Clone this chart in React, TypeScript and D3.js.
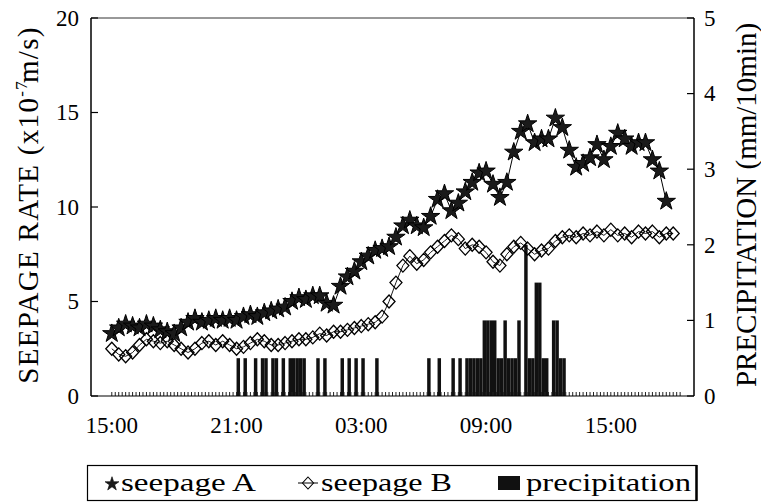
import React from "react";
import * as d3 from "d3";

// ---------- data ----------
const seriesStart = new Date(2000, 0, 1, 15, 0);
const seepageStepMin = 20; // minutes between seepage readings
const precipStepMin = 10; // precipitation interval (mm / 10 min)

const seepageA = [
  3.3, 3.6, 3.8, 3.7, 3.6, 3.8, 3.7, 3.5, 3.4, 3.3,
  3.6, 3.9, 4.1, 3.9, 4.0, 4.1, 4.0, 4.1, 4.0, 4.2,
  4.3, 4.2, 4.4, 4.5, 4.6, 4.7, 5.0, 5.2, 5.1, 5.3,
  5.3, 4.9, 4.8, 5.8, 6.3, 6.6, 7.1, 7.4, 7.7, 7.8,
  7.9, 8.4, 9.0, 9.3, 9.0, 8.9, 9.5, 10.4, 10.7, 9.8,
  10.2, 10.8, 11.3, 11.8, 11.9, 11.2, 10.5, 11.3, 12.9, 14.0,
  14.4, 13.4, 13.6, 13.6, 14.7, 14.2, 13.0, 12.1, 12.3, 12.6,
  13.3, 12.5, 13.2, 13.9, 13.6, 13.2, 13.4, 13.4, 12.5, 11.9,
  10.3,
];

const seepageB = [
  2.5, 2.2, 2.1, 2.3, 2.7, 3.0, 2.9, 2.8, 2.9, 2.7,
  2.5, 2.3, 2.5, 2.8, 2.9, 2.7, 2.9, 2.7, 2.5, 2.6,
  2.8, 3.0, 2.9, 2.7, 2.7, 2.8, 2.9, 3.0, 3.0, 3.1,
  3.3, 3.2, 3.4, 3.4, 3.5, 3.6, 3.7, 3.8, 3.9, 4.2,
  5.0, 6.0, 6.9, 7.4, 7.0, 7.2, 7.6, 7.9, 8.2, 8.5,
  8.3, 7.8, 8.0, 7.9, 7.6, 7.1, 6.9, 7.5, 7.9, 8.1,
  7.8, 7.5, 7.7, 7.8, 8.2, 8.4, 8.5, 8.4, 8.6, 8.5,
  8.7, 8.5, 8.8, 8.5, 8.6, 8.4, 8.7, 8.6, 8.7, 8.4,
  8.6, 8.6,
];

const precipitation = [
  0, 0, 0, 0, 0, 0, 0, 0, 0, 0,
  0, 0, 0, 0, 0, 0, 0, 0, 0, 0,
  0, 0, 0, 0, 0, 0, 0, 0, 0, 0,
  0, 0, 0, 0, 0, 0, 0.5, 0, 0.5, 0,
  0, 0.5, 0, 0.5, 0.5, 0, 0.5, 0.5, 0, 0.5,
  0, 0.5, 0.5, 0.5, 0.5, 0.5, 0, 0, 0, 0.5,
  0, 0.5, 0, 0, 0, 0, 0.5, 0, 0.5, 0,
  0.5, 0, 0.5, 0, 0, 0, 0.5, 0, 0, 0,
  0, 0, 0, 0, 0, 0, 0, 0, 0, 0,
  0, 0.5, 0, 0, 0.5, 0, 0, 0, 0.5, 0,
  0.5, 0, 0.5, 0.5, 0.5, 0.5, 0.5, 1, 1, 1,
  1, 0.5, 0.5, 1, 0.5, 0.5, 0.5, 1, 0, 2,
  0.5, 0.5, 1.5, 1.5, 0.5, 0.5, 0, 1, 1, 0.5,
  0.5,
];

const minorTickCount = 165; // 10-min ticks along the time axis
const xDomain = [new Date(2000, 0, 1, 14, 0), new Date(2000, 0, 2, 19, 0)];
const xTickTimes = [
  new Date(2000, 0, 1, 15, 0),
  new Date(2000, 0, 1, 21, 0),
  new Date(2000, 0, 2, 3, 0),
  new Date(2000, 0, 2, 9, 0),
  new Date(2000, 0, 2, 15, 0),
];
const leftTicks = [0, 5, 10, 15, 20];
const rightTicks = [0, 1, 2, 3, 4, 5];
const legendLabels = ["seepage A", "seepage B", "precipitation"];

// ---------- layout ----------
const W = 761;
const H = 503;
const M = { left: 91, right: 694, top: 18, bottom: 396 };
const SERIF = "Liberation Serif";

const addMin = (d: Date, m: number) => new Date(d.getTime() + m * 60000);

export default function App() {
  const x = d3.scaleTime().domain(xDomain).range([M.left, M.right]);
  const yL = d3.scaleLinear().domain([0, 20]).range([M.bottom, M.top]);
  const yR = d3.scaleLinear().domain([0, 5]).range([M.bottom, M.top]);
  const fmt = d3.timeFormat("%H:%M");

  const ptsA = seepageA.map((v, i) => [x(addMin(seriesStart, i * seepageStepMin)), yL(v)] as [number, number]);
  const ptsB = seepageB.map((v, i) => [x(addMin(seriesStart, i * seepageStepMin)), yL(v)] as [number, number]);
  const line = d3.line();
  const star = d3.symbol(d3.symbolStar, 105)()!;
  const starLeg = d3.symbol(d3.symbolStar, 60)()!;
  const diamond = "M0,-6.5L6,0L0,6.5L-6,0Z";
  const diamondLeg = "M0,-6L5.5,0L0,6L-5.5,0Z";

  const bars = precipitation
    .map((v, i) => {
      const t = addMin(seriesStart, i * precipStepMin);
      const x0 = x(t);
      const x1 = x(addMin(t, precipStepMin));
      return { v, x0, w: x1 - x0 };
    })
    .filter((b) => b.v > 0);

  const minor = d3.range(minorTickCount).map((k) => x(addMin(seriesStart, k * precipStepMin)));

  const serif = { fontFamily: SERIF } as React.CSSProperties;

  return (
    <svg width={W} height={H} style={{ position: "absolute", left: 0, top: 0, background: "#fff" }}>
      <rect x={0} y={0} width={W} height={H} fill="#fff" />

      {/* precipitation bars */}
      {bars.map((b, i) => (
        <rect key={i} x={b.x0} y={yR(b.v)} width={b.w} height={yR(0) - yR(b.v)} fill="#111" />
      ))}

      {/* minor time ticks */}
      {minor.map((mx, i) => (
        <line key={i} x1={mx} x2={mx} y1={M.bottom} y2={M.bottom - 4} stroke="#222" strokeWidth={1} />
      ))}

      {/* seepage B */}
      <path d={line(ptsB)!} fill="none" stroke="#000" strokeWidth={0.9} />
      {ptsB.map((p, i) => (
        <path key={i} d={diamond} transform={`translate(${p[0]},${p[1]})`} fill="none" stroke="#000" strokeWidth={1.3} />
      ))}

      {/* seepage A */}
      <path d={line(ptsA)!} fill="none" stroke="#000" strokeWidth={1} />
      {ptsA.map((p, i) => (
        <path key={i} d={star} transform={`translate(${p[0]},${p[1]})`} fill="#1a1a1a" stroke="#000" strokeWidth={1} />
      ))}

      {/* frame */}
      <line x1={M.left} x2={M.right} y1={M.top} y2={M.top} stroke="#333" strokeWidth={1} />
      <line x1={M.left} x2={M.right} y1={M.bottom} y2={M.bottom} stroke="#000" strokeWidth={1.2} />
      <line x1={M.left} x2={M.left} y1={M.top} y2={M.bottom} stroke="#000" strokeWidth={1.5} />
      <line x1={M.right} x2={M.right} y1={M.top} y2={M.bottom} stroke="#000" strokeWidth={1.5} />

      {/* left axis */}
      {leftTicks.map((t) => (
        <g key={t}>
          <line x1={M.left} x2={M.left + 7} y1={yL(t)} y2={yL(t)} stroke="#000" strokeWidth={1.2} />
          <text x={79} y={yL(t)} dy="0.34em" textAnchor="end" style={serif} fontSize={23} fill="#000">
            {t}
          </text>
        </g>
      ))}

      {/* right axis */}
      {rightTicks.map((t) => (
        <g key={t}>
          <line x1={M.right - 7} x2={M.right} y1={yR(t)} y2={yR(t)} stroke="#000" strokeWidth={1.2} />
          <text x={704} y={yR(t)} dy="0.34em" textAnchor="start" style={serif} fontSize={23} fill="#000">
            {t}
          </text>
        </g>
      ))}

      {/* x labels */}
      {xTickTimes.map((t, i) => (
        <text key={i} x={x(t)} y={433} textAnchor="middle" style={serif} fontSize={23} fill="#000">
          {fmt(t)}
        </text>
      ))}

      {/* axis titles */}
      <text transform="translate(38,205) rotate(-90)" textAnchor="middle" style={serif} fontSize={29} letterSpacing={1.3} fill="#000">
        SEEPAGE RATE (x10<tspan dy={-11} fontSize={17}>-7</tspan>
        <tspan dy={11} dx={-3}>m/s)</tspan>
      </text>
      <text transform="translate(756,205) rotate(-90)" textAnchor="middle" style={serif} fontSize={29} fill="#000">
        PRECIPITATION (mm/10min)
      </text>

      {/* legend */}
      <rect x={87.5} y={465.5} width={609} height={35} fill="#fff" stroke="#000" strokeWidth={1.2} />
      <line x1={696.5} x2={696.5} y1={465} y2={501} stroke="#000" strokeWidth={2.5} />
      <path d={starLeg} transform="translate(112,484)" fill="#1a1a1a" stroke="#000" strokeWidth={0.6} />
      <text x={121} y={491} style={serif} fontSize={25} textLength={135} lengthAdjust="spacingAndGlyphs" fill="#000">
        {legendLabels[0]}
      </text>
      <line x1={298} x2={318} y1={483} y2={483} stroke="#000" strokeWidth={1} />
      <path d={diamondLeg} transform="translate(308,483)" fill="none" stroke="#000" strokeWidth={1.1} />
      <text x={321} y={491} style={serif} fontSize={25} textLength={131} lengthAdjust="spacingAndGlyphs" fill="#000">
        {legendLabels[1]}
      </text>
      <rect x={498} y={476} width={22} height={14} fill="#111" />
      <text x={526} y={491} style={serif} fontSize={25} textLength={165} lengthAdjust="spacingAndGlyphs" fill="#000">
        {legendLabels[2]}
      </text>
    </svg>
  );
}
